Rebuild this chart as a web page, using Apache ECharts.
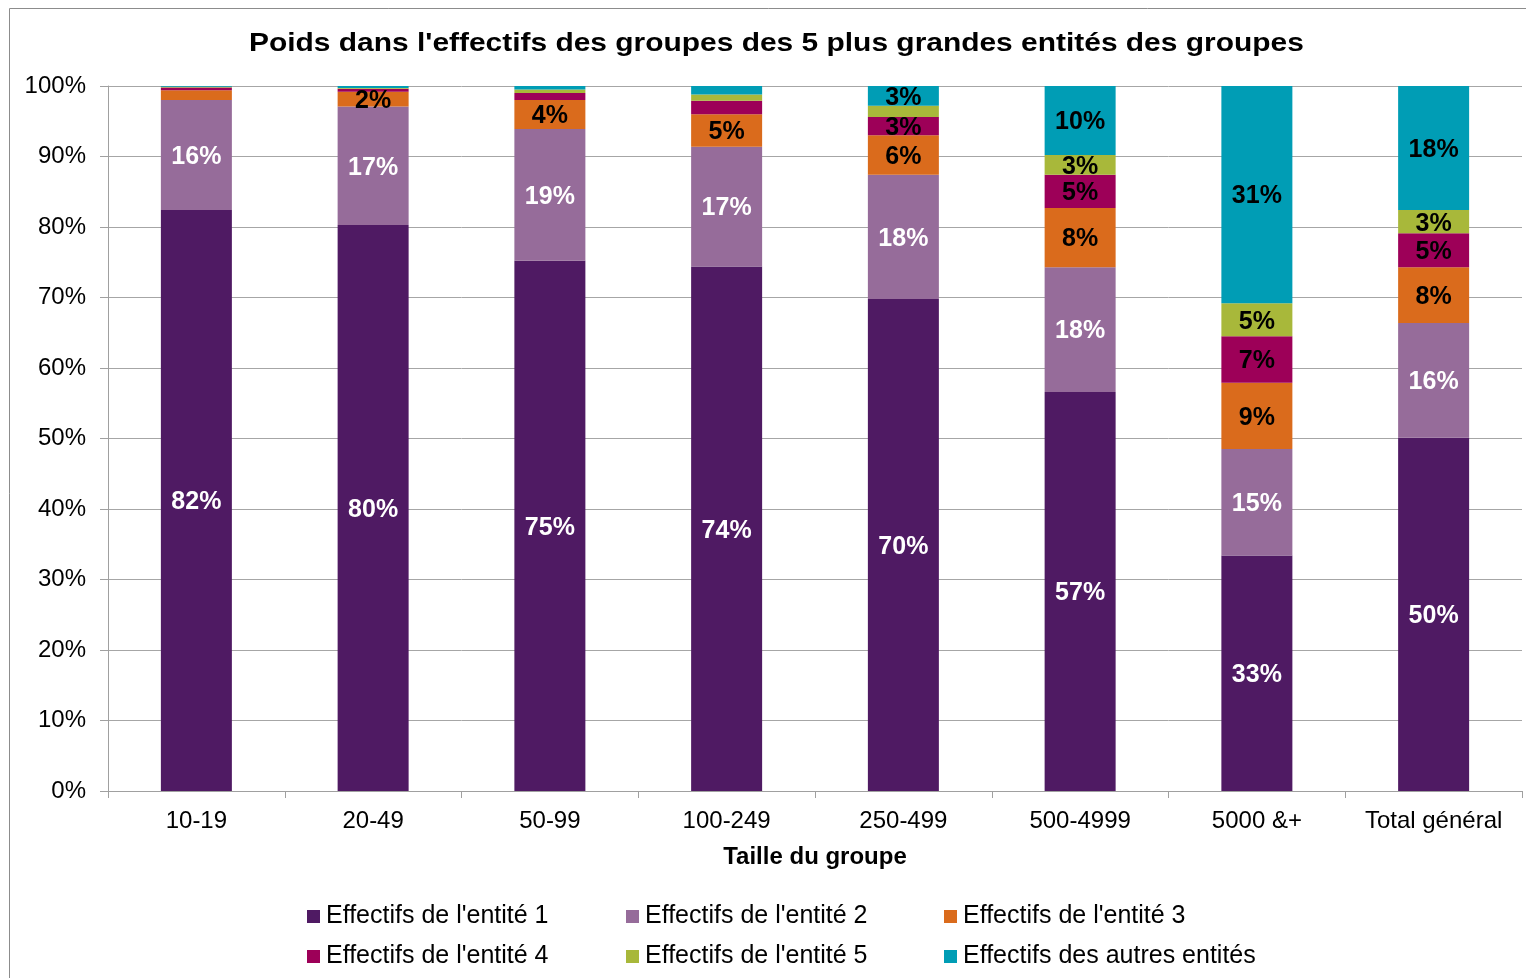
<!DOCTYPE html>
<html>
<head>
<meta charset="utf-8">
<title>Poids dans l'effectifs des groupes</title>
<script src="https://cdn.jsdelivr.net/npm/echarts@6/dist/echarts.min.js"></script>
<style>
  html, body { margin: 0; padding: 0; background: #fff; }
  #chart { width: 1526px; height: 978px; }
</style>
</head>
<body>
<div id="chart"></div>
<script>
// tailles de groupe
const categories = ["10-19", "20-49", "50-99", "100-249", "250-499", "500-4999", "5000 &+", "Total général"];

// part (%) de chaque entité dans l'effectif du groupe
const entite1 = [82.4, 80.3, 75.2, 74.4, 69.8, 56.6, 33.4, 50.1];
const entite2 = [15.6, 16.8, 18.7, 17.0, 17.6, 17.7, 15.1, 16.3];
const entite3 = [1.4, 2.1, 4.1, 4.6, 5.6, 8.4, 9.4, 7.9];
const entite4 = [0.4, 0.4, 1.0, 1.9, 2.6, 4.7, 6.6, 4.8];
const entite5 = [0.1, 0.1, 0.5, 0.9, 1.6, 2.8, 4.7, 3.3];
const autres  = [0.1, 0.3, 0.5, 1.2, 2.8, 9.8, 30.8, 17.6];

const FONT = "Liberation Sans, Arial, sans-serif";

const chart = echarts.init(document.getElementById("chart"));

// étiquettes : on masque les parts inférieures à 2 %
function makeSeries(name, data, color, labelColor) {
  return {
    name: name,
    type: "bar",
    stack: "total",
    barWidth: 71,
    data: data,
    itemStyle: { color: color },
    label: {
      show: true,
      position: "inside",
      offset: [0, 2],
      color: labelColor,
      fontFamily: FONT,
      fontSize: 25,
      fontWeight: "bold",
      formatter: p => (p.value >= 2 ? Math.round(p.value) + "%" : "")
    }
  };
}

const legendBase = {
  orient: "vertical",
  top: 904,
  padding: 0,
  itemWidth: 13,
  itemHeight: 13,
  itemGap: 15,
  icon: "rect",
  textStyle: { fontFamily: FONT, fontSize: 25, color: "#000", padding: [0, 0, 0, 1] }
};

chart.setOption({
  animation: false,
  graphic: [
    {
      type: "rect",
      shape: { x: 9.5, y: 8.5, width: 1540, height: 1000 },
      style: { fill: "none", stroke: "#8c8c8c", lineWidth: 1 }
    },
    {
      // titre étiré horizontalement comme dans l'original
      type: "text",
      x: 249,
      y: 44,
      scaleX: 1.197,
      style: {
        text: "Poids dans l'effectifs des groupes des 5 plus grandes entités des groupes",
        fontFamily: FONT,
        fontSize: 25,
        fontWeight: "bold",
        fill: "#000",
        verticalAlign: "middle"
      }
    }
  ],
  legend: [
    Object.assign({}, legendBase, { left: 307, data: ["Effectifs de l'entité 1", "Effectifs de l'entité 4"] }),
    Object.assign({}, legendBase, { left: 626, data: ["Effectifs de l'entité 2", "Effectifs de l'entité 5"] }),
    Object.assign({}, legendBase, { left: 944, data: ["Effectifs de l'entité 3", "Effectifs des autres entités"] })
  ],
  grid: { left: 108, right: 4, top: 86, bottom: 187, containLabel: false },
  xAxis: {
    type: "category",
    data: categories,
    name: "Taille du groupe",
    nameLocation: "middle",
    nameGap: 54,
    nameTextStyle: { fontFamily: FONT, fontSize: 24, fontWeight: "bold", color: "#000" },
    axisLine: { lineStyle: { color: "#a0a0a0", width: 1 } },
    axisTick: { show: true, length: 7, lineStyle: { color: "#a0a0a0" } },
    axisLabel: { interval: 0, fontFamily: FONT, fontSize: 24, color: "#000", margin: 18 }
  },
  yAxis: {
    type: "value",
    min: 0,
    max: 100,
    interval: 10,
    axisLine: { show: true, lineStyle: { color: "#a0a0a0", width: 1 } },
    axisTick: { show: true, length: 8, lineStyle: { color: "#a0a0a0" } },
    axisLabel: { fontFamily: FONT, fontSize: 24, color: "#000", margin: 22, formatter: "{value}%" },
    splitLine: { lineStyle: { color: "#a6a6a6", width: 1 } }
  },
  series: [
    makeSeries("Effectifs de l'entité 1", entite1, "#4f1a63", "#fff"),
    makeSeries("Effectifs de l'entité 2", entite2, "#966c9a", "#fff"),
    makeSeries("Effectifs de l'entité 3", entite3, "#da6b1c", "#000"),
    makeSeries("Effectifs de l'entité 4", entite4, "#9d0058", "#000"),
    makeSeries("Effectifs de l'entité 5", entite5, "#a8b83a", "#000"),
    makeSeries("Effectifs des autres entités", autres, "#009db5", "#000")
  ]
});
</script>
</body>
</html>
